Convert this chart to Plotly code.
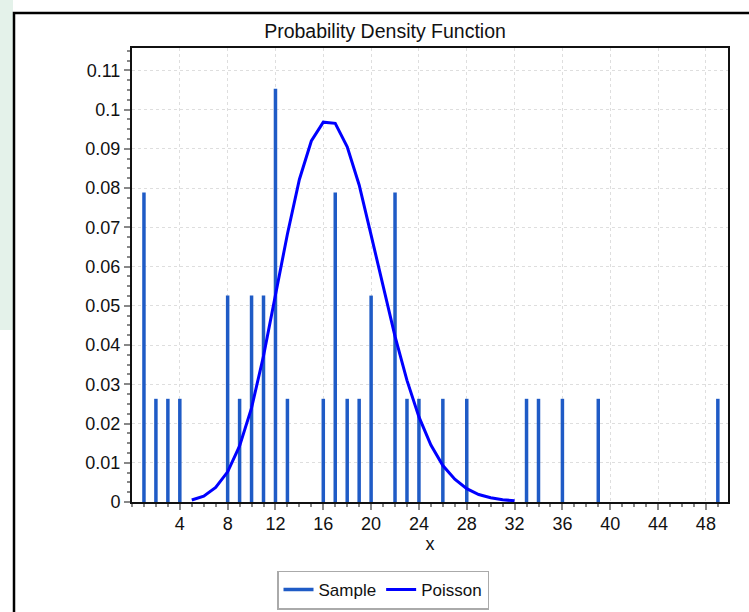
import plotly.graph_objects as go

# Sample (empirical pmf)
sample_x = [1, 2, 3, 4, 8, 9, 10, 11, 12, 13, 16, 17, 18, 19, 20, 22, 23, 24, 26, 28, 33, 34, 36, 39, 49]
sample_y = [0.0789, 0.0263, 0.0263, 0.0263, 0.0526, 0.0263, 0.0526, 0.0526, 0.1053, 0.0263,
            0.0263, 0.0789, 0.0263, 0.0263, 0.0526, 0.0789, 0.0263, 0.0263, 0.0263, 0.0263,
            0.0263, 0.0263, 0.0263, 0.0263, 0.0263]

# Poisson curve
pois_x = [5, 6, 7, 8, 9, 10, 11, 12, 13, 14, 15, 16, 17, 18, 19, 20, 21, 22, 23, 24, 25, 26, 27, 28, 29, 30, 31, 32]
pois_y = [0.0005, 0.0015, 0.0037, 0.0077, 0.0143, 0.0240, 0.0372, 0.0525, 0.0683, 0.0822, 0.0920,
          0.0968, 0.0965, 0.0905, 0.0808, 0.0680, 0.0548, 0.0422, 0.0310, 0.0217, 0.0145, 0.0093,
          0.0058, 0.0034, 0.0019, 0.0011, 0.0006, 0.0003]

x_ticks = [4, 8, 12, 16, 20, 24, 28, 32, 36, 40, 44, 48]
y_ticks = [0, 0.01, 0.02, 0.03, 0.04, 0.05, 0.06, 0.07, 0.08, 0.09, 0.1, 0.11]
y_tick_text = ["0", "0.01", "0.02", "0.03", "0.04", "0.05", "0.06", "0.07", "0.08", "0.09", "0.1", "0.11"]

# stems built from the data arrays
stem_x, stem_y = [], []
for xv, yv in zip(sample_x, sample_y):
    stem_x += [xv, xv, None]
    stem_y += [0, yv, None]

FONT = "Liberation Sans, Arial, sans-serif"
TXT = "#111111"

fig = go.Figure()
fig.add_trace(go.Scatter(x=stem_x, y=stem_y, mode="lines", name="Sample",
                         line=dict(color="#1f5bc6", width=3.5), hoverinfo="skip"))
fig.add_trace(go.Scatter(x=pois_x, y=pois_y, mode="lines", name="Poisson",
                         line=dict(color="#0000ff", width=3)))

W, H = 749, 612
L, R, T, B = 132, 21, 48, 110
pw, ph = W - L - R, H - T - B

def px_x(p):
    return (p - L) / pw

def px_y(p):
    return (H - B - p) / ph

shapes = [
    # mint strip left of the frame
    dict(type="rect", xref="paper", yref="paper", x0=px_x(-2), x1=px_x(13), y0=px_y(330), y1=px_y(-2),
         fillcolor="#e4f2ea", line=dict(width=0), layer="below"),
    # outer frame
    dict(type="rect", xref="paper", yref="paper", x0=px_x(14), x1=px_x(760), y0=px_y(640), y1=px_y(13),
         fillcolor="rgba(0,0,0,0)", line=dict(color="#000000", width=2.5), layer="above"),
]

fig.update_layout(
    width=W, height=H,
    margin=dict(l=L, r=R, t=T, b=B, autoexpand=False),
    paper_bgcolor="white", plot_bgcolor="white",
    font=dict(family=FONT, size=18, color=TXT),
    title=dict(text="Probability Density Function", x=385 / W, xanchor="center",
               y=1 - 31 / H, yanchor="middle", font=dict(family=FONT, size=19.5, color=TXT)),
    showlegend=True,
    legend=dict(orientation="h", xref="container", yref="container",
                x=383 / W, y=1 - 590 / H, xanchor="center", yanchor="middle",
                bordercolor="#aaaaaa", borderwidth=1.5, bgcolor="white",
                font=dict(family=FONT, size=17, color=TXT), itemwidth=30),
    shapes=shapes,
)

fig.update_xaxes(
    range=[0, 49.85], tickmode="array", tickvals=x_ticks,
    ticks="outside", ticklen=6, tickcolor="#888888", tickwidth=1.5,
    minor=dict(dtick=1, tick0=0, ticks="outside", ticklen=3, tickcolor="#888888", showgrid=False),
    showgrid=True, gridcolor="#dedede", griddash="dot", gridwidth=1,
    showline=True, linecolor="#111111", linewidth=2, mirror=True,
    zeroline=False, ticklabelstandoff=-2,
    title=dict(text="x", font=dict(family=FONT, size=18, color=TXT), standoff=4),
    tickfont=dict(family=FONT, size=18, color=TXT),
)
fig.update_yaxes(
    range=[0, 0.1157], tickmode="array", tickvals=y_ticks, ticktext=y_tick_text,
    ticks="outside", ticklen=6, tickcolor="#888888", tickwidth=1.5,
    minor=dict(dtick=0.0025, tick0=0, ticks="outside", ticklen=3, tickcolor="#888888", showgrid=False),
    showgrid=True, gridcolor="#dedede", griddash="dot", gridwidth=1,
    showline=True, linecolor="#111111", linewidth=2, mirror=True,
    zeroline=False,
    tickfont=dict(family=FONT, size=18, color=TXT),
)

fig.write_html("out.html", config={"displayModeBar": False},
               post_script="document.body.style.margin='0';")
